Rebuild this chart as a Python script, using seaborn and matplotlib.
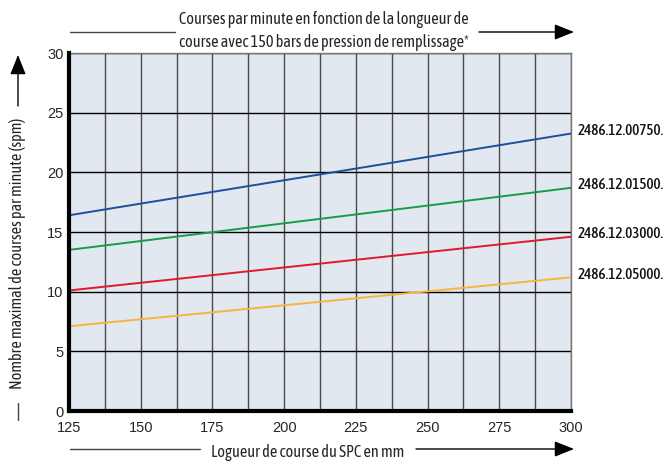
import pandas as pd
import matplotlib.pyplot as plt
import seaborn as sns
from matplotlib import font_manager
from matplotlib.ticker import MultipleLocator

# données (courses/min à 125 mm et 300 mm)
longueur = [125, 300]
ref_00750 = [16.4, 23.25]
ref_01500 = [13.5, 18.7]
ref_03000 = [10.1, 14.6]
ref_05000 = [7.1, 11.2]
references = ['2486.12.00750.', '2486.12.01500.', '2486.12.03000.', '2486.12.05000.']
couleurs = ['#1c4f9c', '#1a9a4a', '#e01a2b', '#f8b53c']

df = pd.DataFrame({
    'longueur': longueur * 4,
    'spm': ref_00750 + ref_01500 + ref_03000 + ref_05000,
    'ref': [r for r in references for _ in longueur],
})

sns.set_theme(style='white')
plt.rcParams['font.family'] = ['Liberation Sans', 'DejaVu Sans']

# police étroite si disponible, sinon Liberation Sans plus petite
noms = {f.name for f in font_manager.fontManager.ttflist}
if 'Asap Condensed' in noms:
    narrow, t_size, r_size = ['Asap Condensed', 'DejaVu Sans'], 11.7, 10.9
elif 'Liberation Sans Narrow' in noms:
    narrow, t_size, r_size = ['Liberation Sans Narrow', 'DejaVu Sans'], 11, 10.5
else:
    narrow, t_size, r_size = ['Liberation Sans', 'DejaVu Sans'], 9.3, 8.8

W, H = 668, 461
fig = plt.figure(figsize=(W / 100, H / 100), dpi=100)
ax = fig.add_axes([69 / W, 1 - 411 / H, (571 - 69) / W, (411 - 53) / H])
ax.set_facecolor('#e1e8f0')

sns.lineplot(data=df, x='longueur', y='spm', hue='ref', palette=couleurs,
             linewidth=1.4, legend=False, ax=ax, zorder=3)

ax.set_xlim(125, 300)
ax.set_ylim(0, 30)
ax.xaxis.set_major_locator(MultipleLocator(25))
ax.xaxis.set_minor_locator(MultipleLocator(12.5))
ax.yaxis.set_major_locator(MultipleLocator(5))
ax.grid(True, which='both', axis='x', color='#4a4a4a', linewidth=1.0, zorder=1)
ax.grid(True, which='major', axis='y', color='black', linewidth=1.0, zorder=1)
ax.set_axisbelow(True)
ax.tick_params(axis='x', which='major', direction='out', length=5, width=1,
               color='black', labelsize=10.5, pad=2)
ax.tick_params(axis='x', which='minor', length=0)
ax.tick_params(axis='y', length=2, width=1, color='black', labelsize=10.5, pad=2)
ax.set_xlabel('')
ax.set_ylabel('')

for s in ['top', 'right']:
    ax.spines[s].set_color('#777777')
    ax.spines[s].set_linewidth(1.0)
for s in ['left', 'bottom']:
    ax.spines[s].set_color('black')
    ax.spines[s].set_linewidth(3)
    ax.spines[s].set_zorder(4)

# étiquettes des références à droite
fins = [ref_00750[-1], ref_01500[-1], ref_03000[-1], ref_05000[-1]]
for nom, y in zip(references, fins):
    ax.annotate(nom, xy=(300, y), xytext=(5, 2), textcoords='offset points',
                ha='left', va='center', fontsize=r_size, family=narrow,
                fontweight=500, color='#111111', annotation_clip=False)


def px(x, y):
    return (x / W, 1 - y / H)


def trait(x0, y0, x1, y1):
    fig.add_artist(plt.Line2D([px(x0, y0)[0], px(x1, y1)[0]],
                              [px(x0, y0)[1], px(x1, y1)[1]],
                              color='#444444', linewidth=1.0))


def fleche(x0, y0, x1, y1):
    ax.annotate('', xy=px(x1, y1), xytext=px(x0, y0), xycoords='figure fraction',
                textcoords='figure fraction',
                arrowprops=dict(arrowstyle='-|>,head_length=1.0,head_width=0.4',
                                color='black', lw=1.0, shrinkA=0, shrinkB=0))


# titre en haut
fig.text(*px(324, 31), 'Courses par minute en fonction de la longueur de\n'
         'course avec 150 bars de pression de remplissage*',
         ha='center', va='center', fontsize=t_size, family=narrow, linespacing=1.45)
trait(70, 32, 175, 32)
fleche(479, 32, 574, 32)

# légende axe x
fig.text(*px(308, 452), 'Logueur de course du SPC en mm',
         ha='center', va='center', fontsize=t_size, family=narrow)
trait(70, 449, 200, 449)
fleche(416, 449, 574, 449)

# légende axe y
fig.text(*px(18, 253), 'Nombre maximal de courses par minute (spm)',
         ha='center', va='center', rotation=90, fontsize=t_size, family=narrow)
trait(18, 420, 18, 403)
fleche(18, 106, 18, 55)

fig.savefig('out.png', dpi=100)
